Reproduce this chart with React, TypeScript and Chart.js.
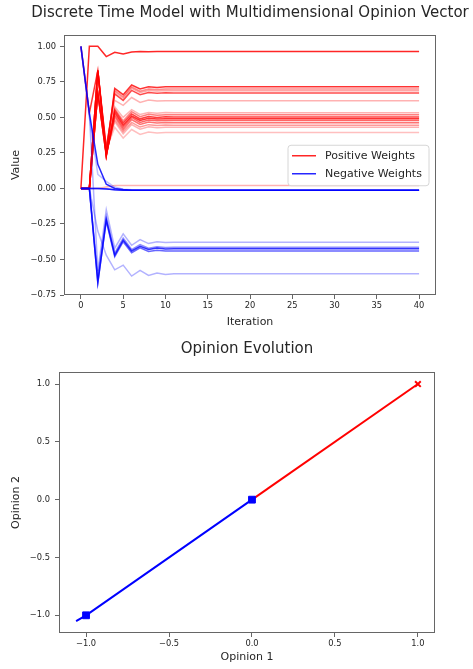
import React, { useEffect, useRef } from 'react';
import { Chart, registerables } from 'chart.js';

Chart.register(...registerables);

const FONT = "'DejaVu Sans', 'Liberation Sans', sans-serif";
const TEXT = '#262626';
const AXIS = '#666666';

// ---------- top chart data ----------
const iterations = [0, 1, 2, 3, 4, 5, 6, 7, 8, 9, 10, 11, 12, 13, 14, 15, 16, 17, 18, 19, 20, 21, 22, 23, 24, 25, 26, 27, 28, 29, 30, 31, 32, 33, 34, 35, 36, 37, 38, 39, 40];

const posTop = [0, 1.0, 1.0, 0.928, 0.958, 0.947, 0.96, 0.963, 0.962, 0.963, 0.963, 0.963, 0.963, 0.963, 0.963, 0.963, 0.963, 0.963, 0.963, 0.963, 0.963, 0.963, 0.963, 0.963, 0.963, 0.963, 0.963, 0.963, 0.963, 0.963, 0.963, 0.963, 0.963, 0.963, 0.963, 0.963, 0.963, 0.963, 0.963, 0.963, 0.963];
const posUp1 = [1.0, 0.53, 0.83, 0.24, 0.705, 0.66, 0.728, 0.70, 0.715, 0.71, 0.716, 0.715, 0.715, 0.715, 0.715, 0.715, 0.715, 0.715, 0.715, 0.715, 0.715, 0.715, 0.715, 0.715, 0.715, 0.715, 0.715, 0.715, 0.715, 0.715, 0.715, 0.715, 0.715, 0.715, 0.715, 0.715, 0.715, 0.715, 0.715, 0.715, 0.715];
const posUp2 = [0, 0, 0.83, 0.26, 0.69, 0.645, 0.715, 0.685, 0.70, 0.697, 0.70, 0.70, 0.70, 0.70, 0.70, 0.70, 0.70, 0.70, 0.70, 0.70, 0.70, 0.70, 0.70, 0.70, 0.70, 0.70, 0.70, 0.70, 0.70, 0.70, 0.70, 0.70, 0.70, 0.70, 0.70, 0.70, 0.70, 0.70, 0.70, 0.70, 0.70];
const posUp3 = [0, 0, 0.83, 0.27, 0.68, 0.635, 0.705, 0.675, 0.69, 0.686, 0.689, 0.688, 0.688, 0.688, 0.688, 0.688, 0.688, 0.688, 0.688, 0.688, 0.688, 0.688, 0.688, 0.688, 0.688, 0.688, 0.688, 0.688, 0.688, 0.688, 0.688, 0.688, 0.688, 0.688, 0.688, 0.688, 0.688, 0.688, 0.688, 0.688, 0.688];
const posUp4 = [0, 0, 0.83, 0.28, 0.665, 0.62, 0.69, 0.66, 0.675, 0.67, 0.673, 0.672, 0.672, 0.672, 0.672, 0.672, 0.672, 0.672, 0.672, 0.672, 0.672, 0.672, 0.672, 0.672, 0.672, 0.672, 0.672, 0.672, 0.672, 0.672, 0.672, 0.672, 0.672, 0.672, 0.672, 0.672, 0.672, 0.672, 0.672, 0.672, 0.672];
const posUp5 = [0, 0, 0.80, 0.30, 0.62, 0.585, 0.64, 0.605, 0.622, 0.615, 0.618, 0.617, 0.617, 0.617, 0.617, 0.617, 0.617, 0.617, 0.617, 0.617, 0.617, 0.617, 0.617, 0.617, 0.617, 0.617, 0.617, 0.617, 0.617, 0.617, 0.617, 0.617, 0.617, 0.617, 0.617, 0.617, 0.617, 0.617, 0.617, 0.617, 0.617];
const posMid1 = [0, 0, 0.83, 0.23, 0.575, 0.50, 0.555, 0.52, 0.535, 0.53, 0.534, 0.533, 0.533, 0.533, 0.533, 0.533, 0.533, 0.533, 0.533, 0.533, 0.533, 0.533, 0.533, 0.533, 0.533, 0.533, 0.533, 0.533, 0.533, 0.533, 0.533, 0.533, 0.533, 0.533, 0.533, 0.533, 0.533, 0.533, 0.533, 0.533, 0.533];
const posMid2 = [0, 0, 0.83, 0.23, 0.56, 0.475, 0.54, 0.505, 0.522, 0.516, 0.519, 0.518, 0.518, 0.518, 0.518, 0.518, 0.518, 0.518, 0.518, 0.518, 0.518, 0.518, 0.518, 0.518, 0.518, 0.518, 0.518, 0.518, 0.518, 0.518, 0.518, 0.518, 0.518, 0.518, 0.518, 0.518, 0.518, 0.518, 0.518, 0.518, 0.518];
const posMid3 = [0, 0, 0.83, 0.23, 0.55, 0.46, 0.525, 0.49, 0.507, 0.50, 0.504, 0.503, 0.503, 0.503, 0.503, 0.503, 0.503, 0.503, 0.503, 0.503, 0.503, 0.503, 0.503, 0.503, 0.503, 0.503, 0.503, 0.503, 0.503, 0.503, 0.503, 0.503, 0.503, 0.503, 0.503, 0.503, 0.503, 0.503, 0.503, 0.503, 0.503];
const posMid4 = [0, 0, 0.67, 0.23, 0.535, 0.445, 0.51, 0.478, 0.494, 0.488, 0.491, 0.49, 0.49, 0.49, 0.49, 0.49, 0.49, 0.49, 0.49, 0.49, 0.49, 0.49, 0.49, 0.49, 0.49, 0.49, 0.49, 0.49, 0.49, 0.49, 0.49, 0.49, 0.49, 0.49, 0.49, 0.49, 0.49, 0.49, 0.49, 0.49, 0.49];
const posMid5 = [0, 0, 0.67, 0.23, 0.52, 0.43, 0.50, 0.465, 0.482, 0.476, 0.479, 0.478, 0.478, 0.478, 0.478, 0.478, 0.478, 0.478, 0.478, 0.478, 0.478, 0.478, 0.478, 0.478, 0.478, 0.478, 0.478, 0.478, 0.478, 0.478, 0.478, 0.478, 0.478, 0.478, 0.478, 0.478, 0.478, 0.478, 0.478, 0.478, 0.478];
const posMid6 = [0, 0, 0.67, 0.24, 0.505, 0.415, 0.485, 0.45, 0.467, 0.461, 0.464, 0.463, 0.463, 0.463, 0.463, 0.463, 0.463, 0.463, 0.463, 0.463, 0.463, 0.463, 0.463, 0.463, 0.463, 0.463, 0.463, 0.463, 0.463, 0.463, 0.463, 0.463, 0.463, 0.463, 0.463, 0.463, 0.463, 0.463, 0.463, 0.463, 0.463];
const posMid7 = [0, 0, 0.67, 0.25, 0.485, 0.40, 0.465, 0.432, 0.449, 0.443, 0.446, 0.445, 0.445, 0.445, 0.445, 0.445, 0.445, 0.445, 0.445, 0.445, 0.445, 0.445, 0.445, 0.445, 0.445, 0.445, 0.445, 0.445, 0.445, 0.445, 0.445, 0.445, 0.445, 0.445, 0.445, 0.445, 0.445, 0.445, 0.445, 0.445, 0.445];
const posMid8 = [0, 0, 0.67, 0.26, 0.47, 0.385, 0.45, 0.417, 0.434, 0.428, 0.431, 0.43, 0.43, 0.43, 0.43, 0.43, 0.43, 0.43, 0.43, 0.43, 0.43, 0.43, 0.43, 0.43, 0.43, 0.43, 0.43, 0.43, 0.43, 0.43, 0.43, 0.43, 0.43, 0.43, 0.43, 0.43, 0.43, 0.43, 0.43, 0.43, 0.43];
const posMid9 = [0, 0, 0.67, 0.27, 0.43, 0.355, 0.415, 0.38, 0.397, 0.39, 0.394, 0.393, 0.393, 0.393, 0.393, 0.393, 0.393, 0.393, 0.393, 0.393, 0.393, 0.393, 0.393, 0.393, 0.393, 0.393, 0.393, 0.393, 0.393, 0.393, 0.393, 0.393, 0.393, 0.393, 0.393, 0.393, 0.393, 0.393, 0.393, 0.393, 0.393];
const posZero = [0, 0, 0, 0.01, 0.02, 0.02, 0.02, 0.02, 0.02, 0.02, 0.02, 0.02, 0.02, 0.02, 0.02, 0.02, 0.02, 0.02, 0.02, 0.02, 0.02, 0.02, 0.02, 0.02, 0.02, 0.02, 0.02, 0.02, 0.02, 0.02, 0.02, 0.02, 0.02, 0.02, 0.02, 0.02, 0.02, 0.02, 0.02, 0.02, 0.02];

const negTop = [1.0, 0.53, 0.17, 0.03, 0.0, -0.008, -0.012, -0.013, -0.013, -0.013, -0.013, -0.013, -0.013, -0.013, -0.013, -0.013, -0.013, -0.013, -0.013, -0.013, -0.013, -0.013, -0.013, -0.013, -0.013, -0.013, -0.013, -0.013, -0.013, -0.013, -0.013, -0.013, -0.013, -0.013, -0.013, -0.013, -0.013, -0.013, -0.013, -0.013, -0.013];
const negTopLight = [1.0, 0.5, 0.1, 0.05, 0.01, -0.005, -0.01, -0.013, -0.013, -0.013, -0.013, -0.013, -0.013, -0.013, -0.013, -0.013, -0.013, -0.013, -0.013, -0.013, -0.013, -0.013, -0.013, -0.013, -0.013, -0.013, -0.013, -0.013, -0.013, -0.013, -0.013, -0.013, -0.013, -0.013, -0.013, -0.013, -0.013, -0.013, -0.013, -0.013, -0.013];
const negZero1 = [0, 0, 0, -0.004, -0.01, -0.012, -0.013, -0.013, -0.013, -0.013, -0.013, -0.013, -0.013, -0.013, -0.013, -0.013, -0.013, -0.013, -0.013, -0.013, -0.013, -0.013, -0.013, -0.013, -0.013, -0.013, -0.013, -0.013, -0.013, -0.013, -0.013, -0.013, -0.013, -0.013, -0.013, -0.013, -0.013, -0.013, -0.013, -0.013, -0.013];
const negZero2 = [0, 0, 0, -0.003, -0.009, -0.012, -0.013, -0.013, -0.013, -0.013, -0.013, -0.013, -0.013, -0.013, -0.013, -0.013, -0.013, -0.013, -0.013, -0.013, -0.013, -0.013, -0.013, -0.013, -0.013, -0.013, -0.013, -0.013, -0.013, -0.013, -0.013, -0.013, -0.013, -0.013, -0.013, -0.013, -0.013, -0.013, -0.013, -0.013, -0.013];
const negMid1 = [0, 0, -0.665, -0.22, -0.47, -0.363, -0.44, -0.407, -0.43, -0.42, -0.426, -0.425, -0.425, -0.425, -0.425, -0.425, -0.425, -0.425, -0.425, -0.425, -0.425, -0.425, -0.425, -0.425, -0.425, -0.425, -0.425, -0.425, -0.425, -0.425, -0.425, -0.425, -0.425, -0.425, -0.425, -0.425, -0.425, -0.425, -0.425, -0.425, -0.425];
const negMid2 = [0, 0, -0.66, -0.23, -0.48, -0.375, -0.452, -0.418, -0.443, -0.435, -0.44, -0.44, -0.44, -0.44, -0.44, -0.44, -0.44, -0.44, -0.44, -0.44, -0.44, -0.44, -0.44, -0.44, -0.44, -0.44, -0.44, -0.44, -0.44, -0.44, -0.44, -0.44, -0.44, -0.44, -0.44, -0.44, -0.44, -0.44, -0.44, -0.44, -0.44];
const negMid3 = [0, 0, -0.62, -0.20, -0.455, -0.35, -0.43, -0.395, -0.42, -0.41, -0.415, -0.414, -0.414, -0.414, -0.414, -0.414, -0.414, -0.414, -0.414, -0.414, -0.414, -0.414, -0.414, -0.414, -0.414, -0.414, -0.414, -0.414, -0.414, -0.414, -0.414, -0.414, -0.414, -0.414, -0.414, -0.414, -0.414, -0.414, -0.414, -0.414, -0.414];
const negUpLight = [1.0, 0.53, -0.58, -0.15, -0.42, -0.32, -0.40, -0.36, -0.388, -0.375, -0.381, -0.379, -0.379, -0.379, -0.379, -0.379, -0.379, -0.379, -0.379, -0.379, -0.379, -0.379, -0.379, -0.379, -0.379, -0.379, -0.379, -0.379, -0.379, -0.379, -0.379, -0.379, -0.379, -0.379, -0.379, -0.379, -0.379, -0.379, -0.379, -0.379, -0.379];
const negLowLight = [0, 0, -0.30, -0.47, -0.573, -0.54, -0.617, -0.577, -0.612, -0.595, -0.605, -0.60, -0.60, -0.60, -0.60, -0.60, -0.60, -0.60, -0.60, -0.60, -0.60, -0.60, -0.60, -0.60, -0.60, -0.60, -0.60, -0.60, -0.60, -0.60, -0.60, -0.60, -0.60, -0.60, -0.60, -0.60, -0.60, -0.60, -0.60, -0.60, -0.60];

const positiveSeries = [posTop, posUp1, posUp2, posUp3, posUp4, posUp5, posMid1, posMid2, posMid3, posMid4, posMid5, posMid6, posMid7, posMid8, posMid9, posZero];
const positiveAlphas = [0.85, 0.8, 0.45, 0.35, 0.7, 0.3, 0.3, 0.5, 0.75, 0.8, 0.6, 0.55, 0.4, 0.3, 0.25, 0.3];
const negativeSeries = [negTop, negTopLight, negZero1, negZero2, negMid1, negMid2, negMid3, negUpLight, negLowLight];
const negativeAlphas = [0.85, 0.25, 0.8, 0.5, 0.8, 0.6, 0.45, 0.3, 0.3];

const topXTicks = [0, 5, 10, 15, 20, 25, 30, 35, 40];
const topYTicks = [-0.75, -0.5, -0.25, 0, 0.25, 0.5, 0.75, 1.0];
const topYTickLabels = ['−0.75', '−0.50', '−0.25', '0.00', '0.25', '0.50', '0.75', '1.00'];
const legendLabels = ['Positive Weights', 'Negative Weights'];

// ---------- bottom chart data ----------
const negPathX = [-1.06, -1.0, 0.0];
const negPathY = [-1.05, -1.0, 0.0];
const posPathX = [0.0, 1.0];
const posPathY = [0.0, 1.0];
const negMarkX = [-1.0, 0.0];
const negMarkY = [-1.0, 0.0];
const posMarkX = [1.0];
const posMarkY = [1.0];
const bottomTicks = [-1.0, -0.5, 0.0, 0.5, 1.0];
const bottomTickLabels = ['−1.0', '−0.5', '0.0', '0.5', '1.0'];

const RED = '255,0,0';
const BLUE = '0,0,255';

const framePlugin = {
  id: 'frame',
  afterDatasetsDraw(chart: any) {
    const { ctx, chartArea: a } = chart;
    ctx.save();
    ctx.strokeStyle = AXIS;
    ctx.lineWidth = 1;
    ctx.strokeRect(Math.round(a.left) + 0.5, Math.round(a.top) + 0.5, Math.round(a.right - a.left) - 1, Math.round(a.bottom - a.top) - 1);
    ctx.restore();
  },
};

const titlePlugin = {
  id: 'centeredTitle',
  afterDraw(chart: any, _args: any, opts: any) {
    const { ctx, chartArea: a } = chart;
    ctx.save();
    ctx.font = `${opts.size}px ${FONT}`;
    ctx.fillStyle = TEXT;
    ctx.textAlign = 'center';
    ctx.textBaseline = 'middle';
    ctx.fillText(opts.text, (a.left + a.right) / 2, opts.y);
    ctx.restore();
  },
};

const insideLegendPlugin = {
  id: 'insideLegend',
  afterDraw(chart: any, _args: any, opts: any) {
    if (!opts || !opts.display) return;
    const { ctx, chartArea: a } = chart;
    const items = (opts.labels as string[]).map((lab) => {
      const ds = chart.data.datasets.find((d: any) => d.label === lab);
      return { text: lab, color: opts.colors[lab] || (ds ? ds.borderColor : '#000') };
    });
    const w = 141, h = 40.5;
    const left = a.right - 7 - w;
    const top = (a.top + a.bottom) / 2 - h / 2 + 0.5;
    ctx.save();
    ctx.beginPath();
    const r = 3;
    ctx.moveTo(left + r, top);
    ctx.lineTo(left + w - r, top);
    ctx.quadraticCurveTo(left + w, top, left + w, top + r);
    ctx.lineTo(left + w, top + h - r);
    ctx.quadraticCurveTo(left + w, top + h, left + w - r, top + h);
    ctx.lineTo(left + r, top + h);
    ctx.quadraticCurveTo(left, top + h, left, top + h - r);
    ctx.lineTo(left, top + r);
    ctx.quadraticCurveTo(left, top, left + r, top);
    ctx.closePath();
    ctx.fillStyle = 'rgba(255,255,255,0.8)';
    ctx.fill();
    ctx.strokeStyle = '#d6d6d6';
    ctx.lineWidth = 1;
    ctx.stroke();
    ctx.font = `11px ${FONT}`;
    ctx.textBaseline = 'middle';
    ctx.textAlign = 'left';
    items.forEach((it, i) => {
      const y = top + 10.5 + i * 18;
      ctx.strokeStyle = it.color;
      ctx.lineWidth = 1.5;
      ctx.beginPath();
      ctx.moveTo(left + 4, y);
      ctx.lineTo(left + 28, y);
      ctx.stroke();
      ctx.fillStyle = TEXT;
      ctx.fillText(it.text, left + 37, y);
    });
    ctx.restore();
  },
};

const tickFont = { family: FONT, size: 8.3 };
const labelFont = { family: FONT, size: 11 };

function axisCommon() {
  return {
    grid: { display: true, drawOnChartArea: false, drawTicks: true, tickLength: 4, tickColor: AXIS, lineWidth: 1 },
    border: { display: false },
  };
}

export default function App() {
  const topRef = useRef<HTMLCanvasElement | null>(null);
  const botRef = useRef<HTMLCanvasElement | null>(null);

  useEffect(() => {
    const toPoints = (vals: number[]) => vals.map((v, i) => ({ x: iterations[i], y: v }));
    const posSets = positiveSeries.map((vals, k) => ({
      type: 'line' as const,
      label: legendLabels[0],
      data: toPoints(vals),
      borderColor: `rgba(${RED},${positiveAlphas[k]})`,
      borderWidth: 1.5,
      pointRadius: 0,
      tension: 0,
      fill: false,
      order: 1,
    }));
    const negSets = negativeSeries.map((vals, k) => ({
      type: 'line' as const,
      label: legendLabels[1],
      data: toPoints(vals),
      borderColor: `rgba(${BLUE},${negativeAlphas[k]})`,
      borderWidth: 1.5,
      pointRadius: 0,
      tension: 0,
      fill: false,
      order: 0,
    }));

    const top = new Chart(topRef.current as HTMLCanvasElement, {
      type: 'line',
      data: { datasets: [...posSets, ...negSets] as any },
      options: {
        animation: false,
        responsive: false,
        events: [],
        layout: { padding: { top: 35, right: 37, left: 0, bottom: 0 } },
        plugins: {
          legend: { display: false },
          tooltip: { enabled: false },
          title: { display: false },
          centeredTitle: { text: 'Discrete Time Model with Multidimensional Opinion Vector', size: 15, y: 13 },
          insideLegend: { display: true, labels: legendLabels, colors: { [legendLabels[0]]: `rgba(${RED},0.85)`, [legendLabels[1]]: `rgba(${BLUE},0.85)` } },
        } as any,
        scales: {
          x: {
            type: 'linear',
            min: -2,
            max: 42,
            ...axisCommon(),
            afterBuildTicks: (s: any) => { s.ticks = topXTicks.map((v) => ({ value: v })); },
            afterFit: (s: any) => { s.height = 40; },
            ticks: { font: tickFont, color: TEXT, padding: 2, maxRotation: 0, autoSkip: false, callback: (v: any) => String(v) },
            title: { display: true, text: 'Iteration', font: labelFont, color: TEXT, padding: { top: 0, bottom: 6 } },
          },
          y: {
            type: 'linear',
            min: -0.75,
            max: 1.08,
            ...axisCommon(),
            afterBuildTicks: (s: any) => { s.ticks = topYTicks.map((v) => ({ value: v })); },
            afterFit: (s: any) => { s.width = 64; },
            ticks: { font: tickFont, color: TEXT, padding: 4, autoSkip: false, callback: (v: any) => topYTickLabels[topYTicks.indexOf(v)] ?? '' },
            title: { display: true, text: 'Value', font: labelFont, color: TEXT, padding: { top: 10, bottom: 0 } },
          },
        },
      } as any,
      plugins: [framePlugin, titlePlugin, insideLegendPlugin],
    });

    const bot = new Chart(botRef.current as HTMLCanvasElement, {
      type: 'line',
      data: {
        datasets: [
          {
            type: 'scatter',
            label: 'neg markers',
            data: negMarkX.map((x, i) => ({ x, y: negMarkY[i] })),
            pointStyle: 'rect',
            pointRadius: 4.8,
            backgroundColor: 'rgb(0,0,255)',
            borderColor: 'rgb(0,0,255)',
            borderWidth: 1,
            order: 0,
          },
          {
            type: 'scatter',
            label: 'pos markers',
            data: posMarkX.map((x, i) => ({ x, y: posMarkY[i] })),
            pointStyle: 'crossRot',
            pointRadius: 4,
            borderColor: 'rgb(255,0,0)',
            backgroundColor: 'rgb(255,0,0)',
            borderWidth: 2,
            order: 0,
          },
          {
            type: 'line',
            label: 'neg path',
            data: negPathX.map((x, i) => ({ x, y: negPathY[i] })),
            borderColor: 'rgb(0,0,255)',
            borderWidth: 2,
            pointRadius: 0,
            tension: 0,
            fill: false,
            order: 1,
          },
          {
            type: 'line',
            label: 'pos path',
            data: posPathX.map((x, i) => ({ x, y: posPathY[i] })),
            borderColor: 'rgb(255,0,0)',
            borderWidth: 2,
            pointRadius: 0,
            tension: 0,
            fill: false,
            order: 2,
          },
        ] as any,
      },
      options: {
        animation: false,
        responsive: false,
        events: [],
        layout: { padding: { top: 37, right: 38, left: 0, bottom: 0 } },
        plugins: {
          legend: { display: false },
          tooltip: { enabled: false },
          title: { display: false },
          centeredTitle: { text: 'Opinion Evolution', size: 15, y: 14 },
          insideLegend: { display: false },
        } as any,
        scales: {
          x: {
            type: 'linear',
            min: -1.163,
            max: 1.103,
            ...axisCommon(),
            afterBuildTicks: (s: any) => { s.ticks = bottomTicks.map((v) => ({ value: v })); },
            afterFit: (s: any) => { s.height = 36; },
            ticks: { font: tickFont, color: TEXT, padding: 2, maxRotation: 0, autoSkip: false, callback: (v: any) => bottomTickLabels[bottomTicks.indexOf(v)] ?? '' },
            title: { display: true, text: 'Opinion 1', font: labelFont, color: TEXT, padding: { top: 0, bottom: 5 } },
          },
          y: {
            type: 'linear',
            min: -1.153,
            max: 1.104,
            ...axisCommon(),
            afterBuildTicks: (s: any) => { s.ticks = bottomTicks.map((v) => ({ value: v })); },
            afterFit: (s: any) => { s.width = 59; },
            ticks: { font: tickFont, color: TEXT, padding: 5, autoSkip: false, callback: (v: any) => bottomTickLabels[bottomTicks.indexOf(v)] ?? '' },
            title: { display: true, text: 'Opinion 2', font: labelFont, color: TEXT, padding: { top: 10, bottom: 0 } },
          },
        },
      } as any,
      plugins: [framePlugin, titlePlugin],
    });

    return () => {
      top.destroy();
      bot.destroy();
    };
  }, []);

  return (
    <div style={{ position: 'absolute', left: 0, top: 0, width: 473, height: 669, background: '#ffffff' }}>
      <canvas ref={topRef} width={473} height={335} style={{ position: 'absolute', left: 0, top: 0, width: 473, height: 335 }} />
      <canvas ref={botRef} width={473} height={334} style={{ position: 'absolute', left: 0, top: 335, width: 473, height: 334 }} />
    </div>
  );
}
